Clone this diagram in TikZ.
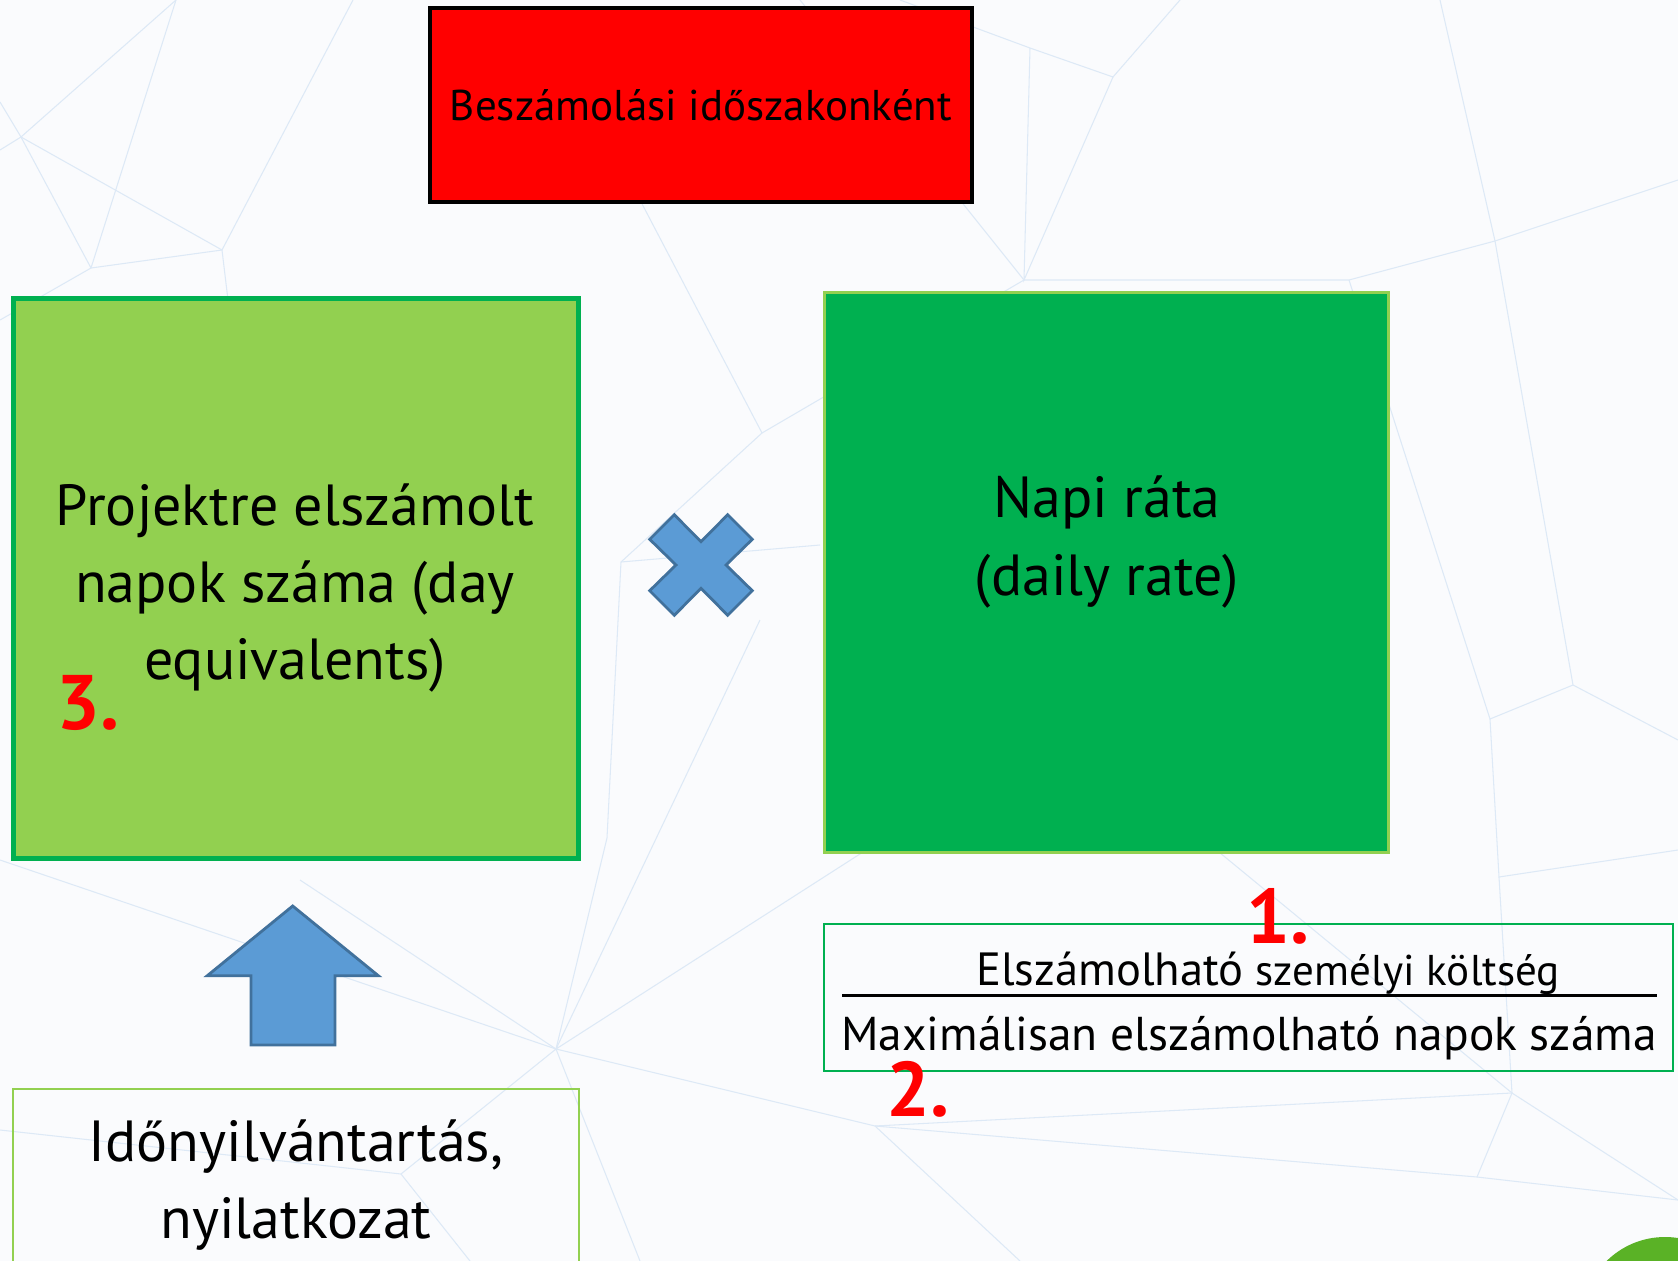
\documentclass[tikz,border=0pt]{standalone}
\usepackage{fontspec}
\setmainfont{PT Sans}
\definecolor{lgreen}{HTML}{92D050}
\definecolor{dgreen}{HTML}{00B050}
\definecolor{shapeblue}{HTML}{5B9BD5}
\definecolor{shapeedge}{HTML}{41719C}
\definecolor{bgcol}{HTML}{FAFBFD}
\definecolor{netcol}{HTML}{DDE9F6}
\definecolor{cornergreen}{HTML}{5AB226}
\tikzset{
  net/.style={draw=netcol, line width=0.6pt},
  bigtext/.style={font=\fontsize{33}{44}\selectfont, align=center},
  fractext/.style={font=\fontsize{26.5}{30}\selectfont},
  num/.style={text=red, inner sep=0pt, font=\fontsize{44}{48}\selectfont\bfseries},
  blueshape/.style={fill=shapeblue, draw=shapeedge, line width=1.6pt, line join=miter},
}
\begin{document}
\begin{tikzpicture}[x=0.02cm, y=-0.02cm]
  \useasboundingbox (0,0) rectangle (1678,1261);
  \clip (0,0) rectangle (1678,1261);
  \fill[bgcol] (0,0) rectangle (1678,1261);
  % background network
  \draw[net] (0,102) -- (21,137) -- (91,268) -- (222,250) -- (353,0);
  \draw[net] (176,0) -- (21,137) -- (0,150);
  \draw[net] (21,137) -- (222,250) -- (228,300);
  \draw[net] (0,320) -- (91,268) -- (176,0);
  \draw[net] (900,0) -- (1030,48) -- (1113,77) -- (1180,0);
  \draw[net] (1030,48) -- (1024,280) -- (1113,77);
  \draw[net] (800,0) -- (1024,280) -- (1349,280) -- (1495,241) -- (1678,180);
  \draw[net] (1440,0) -- (1495,241) -- (1573,685) -- (1678,740);
  \draw[net] (1349,280) -- (1490,719) -- (1573,685);
  \draw[net] (1490,719) -- (1499,877) -- (1678,850);
  \draw[net] (640,200) -- (762,433) -- (621,562) -- (607,838) -- (556,1049);
  \draw[net] (762,433) -- (1024,280);
  \draw[net] (621,562) -- (820,545);
  \draw[net] (0,860) -- (556,1049) -- (875,1126) -- (1512,1093) -- (1678,1200);
  \draw[net] (300,880) -- (556,1049) -- (401,1174) -- (0,1130);
  \draw[net] (760,620) -- (556,1049) -- (1100,700);
  \draw[net] (875,1126) -- (1020,1261);
  \draw[net] (875,1126) -- (1477,1177) -- (1512,1093) -- (1499,877);
  \draw[net] (1477,1177) -- (1678,1200);
  \draw[net] (1180,820) -- (1512,1093);
  \draw[net] (556,1049) -- (640,1261);
  \draw[net] (401,1174) -- (470,1261);
  % corner disc
  \fill[cornergreen] (1665,1320) circle (83);
  % boxes
  \node[fill=red, draw=black, line width=2.3pt, minimum width=10.84cm, minimum height=3.88cm,
        font=\fontsize{24.5}{28}\selectfont] (period) at (701,105) {Beszámolási időszakonként};
  \node[fill=lgreen, draw=dgreen, line width=2.8pt, minimum width=11.32cm, minimum height=11.22cm] (days) at (296,578.5) {};
  \node[bigtext] (daystext) at (295,588) {Projektre elszámolt\\napok száma (day\\equivalents)};
  \node[fill=dgreen, draw=lgreen, line width=1.7pt, minimum width=11.3cm, minimum height=11.22cm] (rate) at (1106.5,572.5) {};
  \node[bigtext] (ratetext) at (1107,542) {Napi ráta\\(daily rate)};
  \node[draw=dgreen, line width=1.1pt, minimum width=16.98cm, minimum height=2.94cm] (frac) at (1248.5,997.5) {};
  \node[draw=lgreen, line width=1.1pt, minimum width=11.32cm, minimum height=4.4cm] (timesheet) at (296,1199) {};
  \node[bigtext] (timetext) at (296,1185) {Időnyilvántartás,\\nyilatkozat};
  % fraction
  \coordinate (barL) at (842,995);
  \coordinate (barR) at (1657,995);
  \draw[line width=1.7pt] (barL) -- (barR);
  \node[fractext, anchor=base] (cost) at (1268,985) {Elszámolható {\fontsize{24.5}{28}\selectfont személyi költség}};
  \node[fractext, anchor=base, font=\fontsize{27}{30}\selectfont] (maxdays) at (1249,1050) {Maximálisan elszámolható napok száma};
  % numbers
  \node[num] (one) at (1278,916) {1.};
  \node[num] (two) at (918,1089) {2.};
  \node[num] (three) at (88,703) {3.};
  % times sign
  \draw[blueshape] (674.3,514.7) -- (701,541.7) -- (727.7,514.7) -- (752.3,539.3) -- (726,565)
    -- (752.3,590.7) -- (727.7,615.3) -- (701,588.3) -- (674.3,615.3) -- (649.7,590.7)
    -- (676,565) -- (649.7,539.3) -- cycle;
  % up arrow
  \draw[blueshape] (292.7,906) -- (378.3,975.7) -- (335,975.7) -- (335,1045) -- (251,1045)
    -- (251,975.7) -- (207.3,975.7) -- cycle;
\end{tikzpicture}
\end{document}
